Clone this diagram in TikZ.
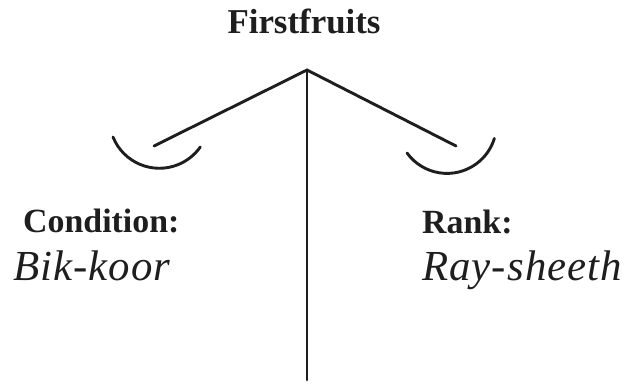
\documentclass[tikz,border=0pt]{standalone}
\usepackage{fontspec}
\setmainfont{Liberation Serif}
\usetikzlibrary{positioning}
\definecolor{inkColor}{RGB}{30, 30, 30}
\tikzset{
    beam_line/.style={
        line width=2.9bp,
        draw=inkColor,
        line cap=round
    },
    pan_arc/.style={
        beam_line
    },
    title_label/.style={
        inner sep=0pt,
        anchor=base,
        text=inkColor,
        font=\fontsize{35}{40}\selectfont\bfseries
    },
    head_label/.style={
        inner sep=0pt,
        anchor=base west,
        text=inkColor,
        font=\fontsize{34}{40}\selectfont\bfseries
    },
    word_label/.style={
        inner sep=0pt,
        anchor=base west,
        text=inkColor,
        font=\fontsize{43}{50}\selectfont\itshape\addfontfeatures{LetterSpace=2.5}
    }
}
\begin{document}
\begin{tikzpicture}[x=1bp, y=1bp]
    \useasboundingbox (0,0) rectangle (628,385);

    \node[title_label] (title) at (304,352) {Firstfruits};

    \coordinate (apex) at (307,315);
    \coordinate (foot) at (307,5);
    \coordinate (leftHook) at (154,239);
    \coordinate (rightHook) at (456,239);
    \coordinate (leftPan) at (113,248);
    \coordinate (rightPan) at (407,232);

    % beam and hangers
    \draw[beam_line] (apex) -- (foot);
    \draw[beam_line] (leftHook) -- (apex) -- (rightHook);

    % the two pans
    \draw[pan_arc] (leftPan) arc[start angle=202, end angle=325, radius=50];
    \draw[pan_arc] (rightPan) arc[start angle=216, end angle=343, radius=49.5];

    \node[head_label] (condHead) at (23,153) {Condition:};
    \node[word_label] (condWord) at (13,105) {Bik-koor};
    \node[head_label] (rankHead) at (422,152) {Rank:};
    \node[word_label] (rankWord) at (422,105) {Ray-sheeth};
\end{tikzpicture}
\end{document}
